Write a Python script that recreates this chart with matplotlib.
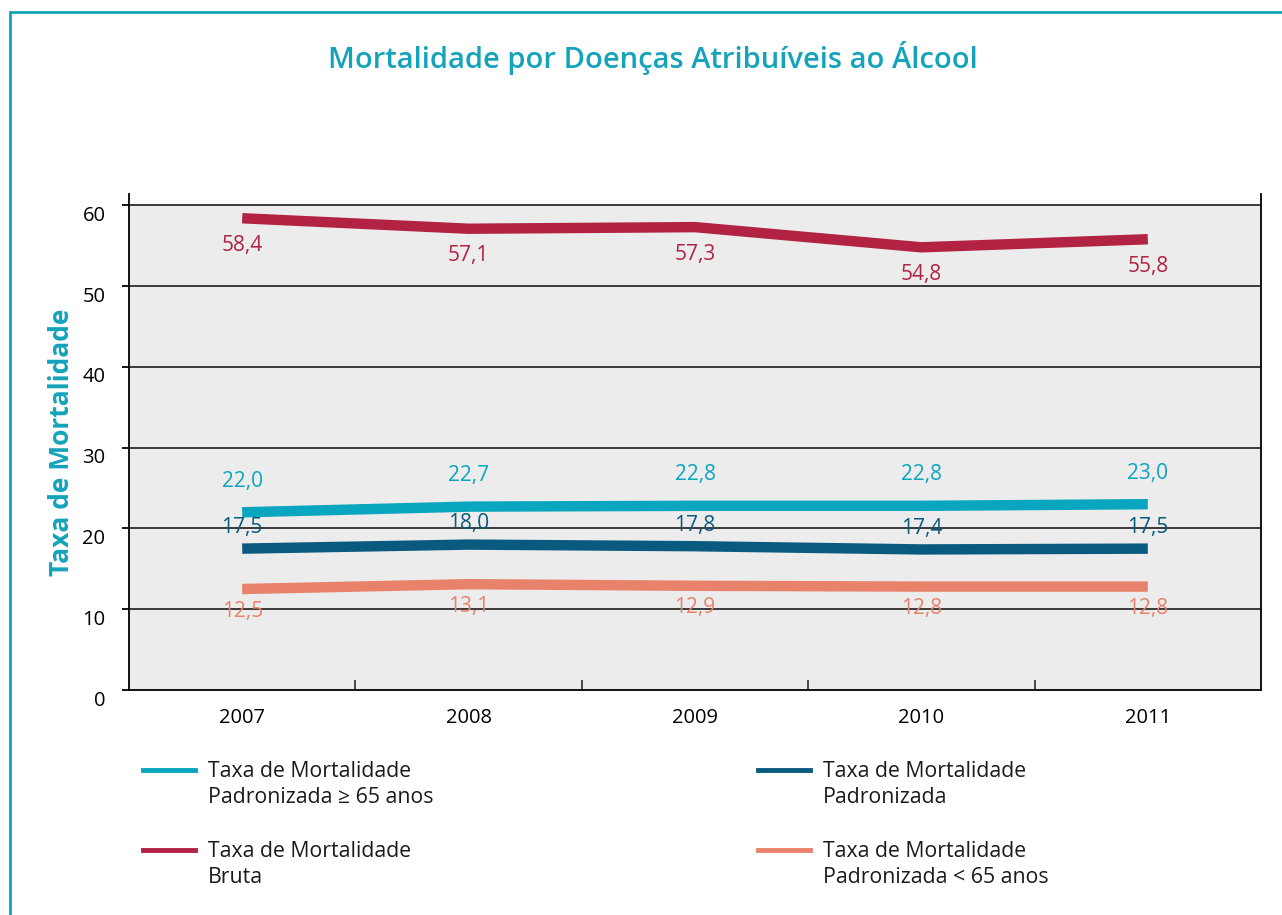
import matplotlib
matplotlib.use("Agg")
import matplotlib.pyplot as plt
import matplotlib.transforms as mtransforms
from matplotlib.lines import Line2D
from matplotlib.patches import Rectangle

plt.rcParams['font.family'] = ['Open Sans', 'DejaVu Sans']

years = ['2007', '2008', '2009', '2010', '2011']
bruta = [58.4, 57.1, 57.3, 54.8, 55.8]
pad65plus = [22.0, 22.7, 22.8, 22.8, 23.0]
padronizada = [17.5, 18.0, 17.8, 17.4, 17.5]
pad65minus = [12.5, 13.1, 12.9, 12.8, 12.8]

labels_legend = ['Taxa de Mortalidade\nPadronizada ≥ 65 anos',
                 'Taxa de Mortalidade\nBruta',
                 'Taxa de Mortalidade\nPadronizada',
                 'Taxa de Mortalidade\nPadronizada < 65 anos']

c_teal = '#0AA5BE'
c_red = '#B22242'
c_navy = '#0A5A80'
c_salmon = '#E9826B'
title_col = '#13A3BA'

W, H = 1282, 915
fig = plt.figure(figsize=(W/100, H/100), dpi=100)

# border
fig.add_artist(Rectangle((10/W, -0.1), 1.2, 1 - 12/H + 0.1, transform=fig.transFigure,
                         fill=False, edgecolor=title_col, linewidth=2))

ax = fig.add_axes([129/W, 1 - 690/H, (1261-129)/W, (690-194)/H])
ax.set_facecolor('white')
ax.set_xlim(-0.5, 4.5)
ax.set_ylim(0, 61.4)
ax.axhspan(0, 60, color='#ECECEC', zorder=0, lw=0)
for v in range(10, 61, 10):
    ax.axhline(v, color='#3A3A3A', lw=1.4, zorder=1)

x = list(range(len(years)))
series = [(bruta, c_red, 27), (pad65plus, c_teal, -31), (padronizada, c_navy, -21), (pad65minus, c_salmon, 22)]
for vals, col, off in series:
    ax.plot(x, vals, color=col, lw=7.5, solid_capstyle='butt', solid_joinstyle='round', zorder=3)
    for xi, v in zip(x, vals):
        ax.annotate(f"{v:.1f}".replace('.', ','), (xi, v), xytext=(0, -off * 0.72),
                    textcoords='offset points', ha='center', va='center',
                    color=col, fontsize=15, zorder=4)

ax.spines['top'].set_visible(False)
for s in ['left', 'right', 'bottom']:
    ax.spines[s].set_color('black')
    ax.spines[s].set_linewidth(1.3)

ax.set_xticks(x)
ax.set_xticklabels(years, fontsize=14.5)
ax.tick_params(axis='x', length=0, pad=13)
ax.set_xticks([0.5, 1.5, 2.5, 3.5], minor=True)
ax.tick_params(axis='x', which='minor', direction='in', length=7, width=1.3, color='#3A3A3A')

ax.set_yticks(range(0, 61, 10))
ax.set_yticklabels([str(v) for v in range(0, 61, 10)], fontsize=14.5)
ax.tick_params(axis='y', length=5, width=1.3, pad=12)
offset = mtransforms.ScaledTranslation(0, -8/100, fig.dpi_scale_trans)
for lbl in ax.get_yticklabels():
    lbl.set_transform(lbl.get_transform() + offset)

fig.text(62/W, 1 - 442/H, 'Taxa de Mortalidade', rotation=90, ha='center', va='center',
         color=title_col, fontsize=19, fontweight='bold')
fig.text(653/W, 1 - 58/H, 'Mortalidade por Doenças Atribuíveis ao Álcool', ha='center', va='center',
         color=title_col, fontsize=21, fontweight='semibold')

# legend
leg_cols = [c_teal, c_red, c_navy, c_salmon]
leg_pos = [(143, 770), (143, 850), (758, 770), (758, 850)]
for (px, py), col, lab in zip(leg_pos, leg_cols, labels_legend):
    fig.add_artist(Line2D([px/W, (px+52)/W], [1 - py/H, 1 - py/H], color=col, lw=3.5,
                          transform=fig.transFigure))
    fig.text((px+65)/W, 1 - (py - 9)/H, lab, ha='left', va='top', fontsize=15.3,
             color='#1a1a1a', linespacing=1.3)

fig.savefig('out.png', dpi=100)
